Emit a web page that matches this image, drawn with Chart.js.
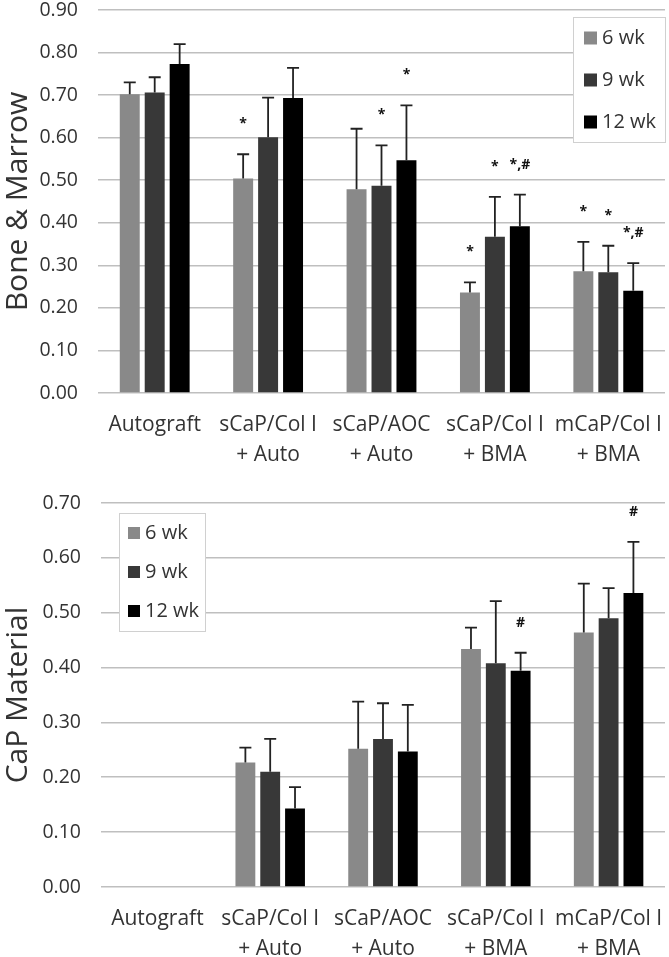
<!DOCTYPE html>
<html lang="en">
<head>
<meta charset="UTF-8">
<title>Bone & Marrow / CaP Material</title>
<script src="https://cdn.jsdelivr.net/npm/chart.js"></script>
<style>
  body { margin: 0; background: #fff; }
</style>
</head>
<body>

<div style="width:669px;height:470px;"><canvas id="boneChart"></canvas></div>
<div style="width:669px;height:487px;"><canvas id="capChart"></canvas></div>

<script>
// categories and series
const groups = [['Autograft'], ['sCaP/Col I', '+ Auto'], ['sCaP/AOC', '+ Auto'], ['sCaP/Col I', '+ BMA'], ['mCaP/Col I', '+ BMA']];
const weeks = ['6 wk', '9 wk', '12 wk'];
const colors = ['#898989', '#383838', '#000000'];

// Bone & Marrow
const bone6 = [0.702, 0.504, 0.479, 0.236, 0.286];
const bone9 = [0.706, 0.601, 0.487, 0.367, 0.284];
const bone12 = [0.773, 0.693, 0.547, 0.392, 0.240];
const bone6Err = [0.028, 0.057, 0.142, 0.024, 0.069];
const bone9Err = [0.036, 0.093, 0.095, 0.094, 0.062];
const bone12Err = [0.047, 0.071, 0.129, 0.074, 0.065];
const bone6Marks = ['', '*', '', '*', '*'];
const bone9Marks = ['', '', '*', '*', '*'];
const bone12Marks = ['', '', '*', '*,#', '*,#'];
const boneTicks = [0, 0.9, 0.1];

// CaP Material
const cap6 = [null, 0.227, 0.252, 0.434, 0.464];
const cap9 = [null, 0.210, 0.270, 0.408, 0.490];
const cap12 = [null, 0.143, 0.247, 0.394, 0.536];
const cap6Err = [null, 0.027, 0.086, 0.039, 0.089];
const cap9Err = [null, 0.060, 0.065, 0.113, 0.055];
const cap12Err = [null, 0.039, 0.085, 0.033, 0.093];
const cap6Marks = ['', '', '', '', ''];
const cap9Marks = ['', '', '', '', ''];
const cap12Marks = ['', '', '', '#', '#'];
const capTicks = [0, 0.7, 0.1];

const FONT = "'Open Sans', sans-serif";
const TEXT = '#333333';

// error bars + significance marks, drawn through the y scale
const errorBars = {
    id: 'errorBars',
    afterDatasetsDraw(chart) {
        const ctx = chart.ctx;
        const y = chart.scales.y;
        chart.data.datasets.forEach((ds, i) => {
            const meta = chart.getDatasetMeta(i);
            meta.data.forEach((bar, j) => {
                const v = ds.data[j];
                if (v == null) return;
                const top = y.getPixelForValue(v + ds.err[j]);
                ctx.save();
                ctx.strokeStyle = '#222';
                ctx.lineWidth = 1.8;
                ctx.beginPath();
                ctx.moveTo(bar.x, bar.y);
                ctx.lineTo(bar.x, top);
                ctx.moveTo(bar.x - 6, top);
                ctx.lineTo(bar.x + 6, top);
                ctx.stroke();
                const mark = ds.marks[j];
                if (mark) {
                    ctx.fillStyle = '#111';
                    ctx.font = "bold 14px " + FONT;
                    ctx.textAlign = 'center';
                    ctx.textBaseline = 'middle';
                    ctx.fillText(mark, bar.x, top - 30);
                }
                ctx.restore();
            });
        });
    }
};

// legend drawn in a bordered box inside the plot
const boxLegend = {
    id: 'boxLegend',
    afterDraw(chart, args, opts) {
        const ctx = chart.ctx;
        const a = chart.chartArea;
        const left = opts.right != null ? a.right - opts.right - opts.w : a.left + opts.left;
        const top = a.top + opts.top;
        ctx.save();
        ctx.fillStyle = '#fff';
        ctx.fillRect(left, top, opts.w, opts.h);
        ctx.strokeStyle = '#d0d0d0';
        ctx.lineWidth = 1;
        ctx.strokeRect(left + 0.5, top + 0.5, opts.w, opts.h);
        ctx.font = opts.size + 'px ' + FONT;
        ctx.textBaseline = 'middle';
        chart.data.datasets.forEach((ds, i) => {
            const cy = top + opts.first + i * opts.gap;
            ctx.fillStyle = ds.backgroundColor;
            ctx.fillRect(left + opts.pad, cy - opts.box / 2, opts.box, opts.box);
            ctx.fillStyle = TEXT;
            ctx.fillText(ds.label, left + opts.pad + opts.box + 5, cy);
        });
        ctx.restore();
    }
};

function makeChart(id, series, errs, marks, ticks, title, axisW, axisH, pad, legend) {
    const ctx = document.getElementById(id).getContext('2d');
    return new Chart(ctx, {
        type: 'bar',
        data: {
            labels: groups,
            datasets: weeks.map((w, i) => ({
                label: w,
                data: series[i],
                err: errs[i],
                marks: marks[i],
                backgroundColor: colors[i],
                barPercentage: 0.8,
                categoryPercentage: 0.66
            }))
        },
        options: {
            responsive: true,
            maintainAspectRatio: false,
            animation: false,
            layout: { padding: { top: pad, right: 4, bottom: 0, left: 0 } },
            plugins: {
                legend: { display: false },
                tooltip: { enabled: false },
                boxLegend: legend
            },
            scales: {
                x: {
                    grid: { display: false, drawTicks: false },
                    border: { display: false },
                    ticks: {
                        color: TEXT,
                        padding: 17,
                        maxRotation: 0,
                        autoSkip: false,
                        font: { family: FONT, size: 21, lineHeight: 1.43 }
                    },
                    afterFit: s => {
                        s.height = axisH;
                        s.paddingLeft = 0;
                        s.paddingRight = 0;
                    }
                },
                y: {
                    min: ticks[0],
                    max: ticks[1],
                    border: { display: false },
                    grid: { color: '#bfbfbf', lineWidth: 1.6, drawTicks: false },
                    ticks: {
                        stepSize: ticks[2],
                        padding: 20,
                        color: TEXT,
                        font: { family: FONT, size: 19.5 },
                        callback: v => v.toFixed(2)
                    },
                    title: {
                        display: true,
                        text: title,
                        color: TEXT,
                        padding: { top: 0, bottom: 0 },
                        font: { family: FONT, size: 30 }
                    },
                    afterFit: s => {
                        s.width = axisW;
                        s.paddingTop = 0;
                        s.paddingBottom = 0;
                    }
                }
            }
        },
        plugins: [errorBars, boxLegend]
    });
}

makeChart('boneChart',
    [bone6, bone9, bone12], [bone6Err, bone9Err, bone12Err], [bone6Marks, bone9Marks, bone12Marks],
    boneTicks, 'Bone & Marrow', 98, 77, 10,
    { right: 0, top: 7, w: 92, h: 125, first: 21, gap: 42, box: 13, pad: 11, size: 20 });

makeChart('capChart',
    [cap6, cap9, cap12], [cap6Err, cap9Err, cap12Err], [cap6Marks, cap9Marks, cap12Marks],
    capTicks, 'CaP Material', 101, 70, 33,
    { left: 18, top: 10, w: 86, h: 118, first: 20, gap: 39, box: 12, pad: 9, size: 20 });
</script>

</body>
</html>
